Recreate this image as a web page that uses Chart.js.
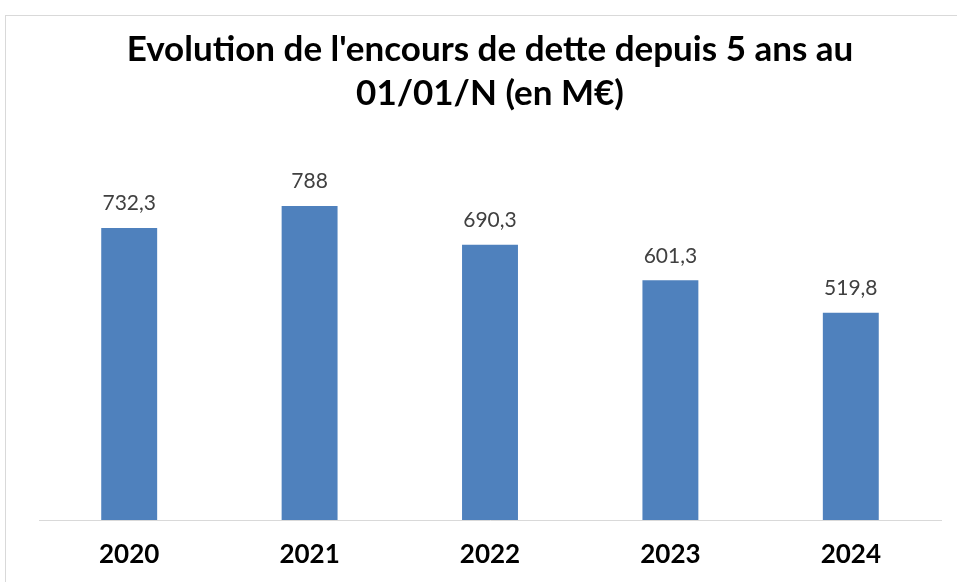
<!DOCTYPE html>
<html>
<head>
<meta charset="utf-8">
<script src="https://cdn.jsdelivr.net/npm/chart.js@4"></script>
<style>
  html, body { margin: 0; padding: 0; background: #ffffff; }
  #wrap { position: relative; width: 957px; height: 582px; overflow: hidden; }
  #c { position: absolute; left: 0; top: 0; }
  #frame { position: absolute; left: 5px; top: 15px; width: 1000px; height: 1000px;
           border-left: 1px solid #d9d9d9; border-top: 1px solid #d9d9d9; pointer-events: none; }
</style>
</head>
<body>
<div id="wrap">
  <canvas id="c" width="957" height="582"></canvas>
  <div id="frame"></div>
</div>
<script>
const titleLines = ["Evolution de l'encours de dette depuis 5 ans au", "01/01/N (en M€)"];
const years = ["2020", "2021", "2022", "2023", "2024"];
const debt = [732.3, 788, 690.3, 601.3, 519.8];

const fmt = v => String(v).replace('.', ',');

const valueLabels = {
  id: 'valueLabels',
  afterDatasetsDraw(chart) {
    const ctx = chart.ctx;
    const meta = chart.getDatasetMeta(0);
    ctx.save();
    ctx.font = '21px Lato';
    ctx.fillStyle = '#404040';
    ctx.textAlign = 'center';
    ctx.textBaseline = 'bottom';
    meta.data.forEach((bar, i) => {
      ctx.fillText(fmt(debt[i]), bar.x, bar.y - 14);
    });
    ctx.restore();
  }
};

new Chart(document.getElementById('c'), {
  type: 'bar',
  data: {
    labels: years,
    datasets: [{
      data: debt,
      backgroundColor: '#4F81BD',
      barPercentage: 0.31,
      categoryPercentage: 1.0
    }]
  },
  options: {
    responsive: false,
    animation: false,
    layout: { padding: { top: 28, left: 39, right: 16, bottom: 0 } },
    plugins: {
      legend: { display: false },
      tooltip: { enabled: false },
      title: {
        display: true,
        text: titleLines,
        color: '#000000',
        font: { family: 'Lato', size: 35, weight: 'bold', lineHeight: 1.25 },
        padding: { top: 0, bottom: 25 }
      }
    },
    scales: {
      x: {
        grid: { display: true, color: 'rgba(0,0,0,0)', drawTicks: false },
        border: { display: true, color: '#d9d9d9', width: 1 },
        ticks: { color: '#000000', font: { family: 'Lato', size: 26, weight: 'bold' }, padding: 19 },
        afterFit(scale) { scale.height = 62; }
      },
      y: {
        display: false,
        min: 0,
        max: 952
      }
    }
  },
  plugins: [valueLabels]
});
</script>
</body>
</html>
